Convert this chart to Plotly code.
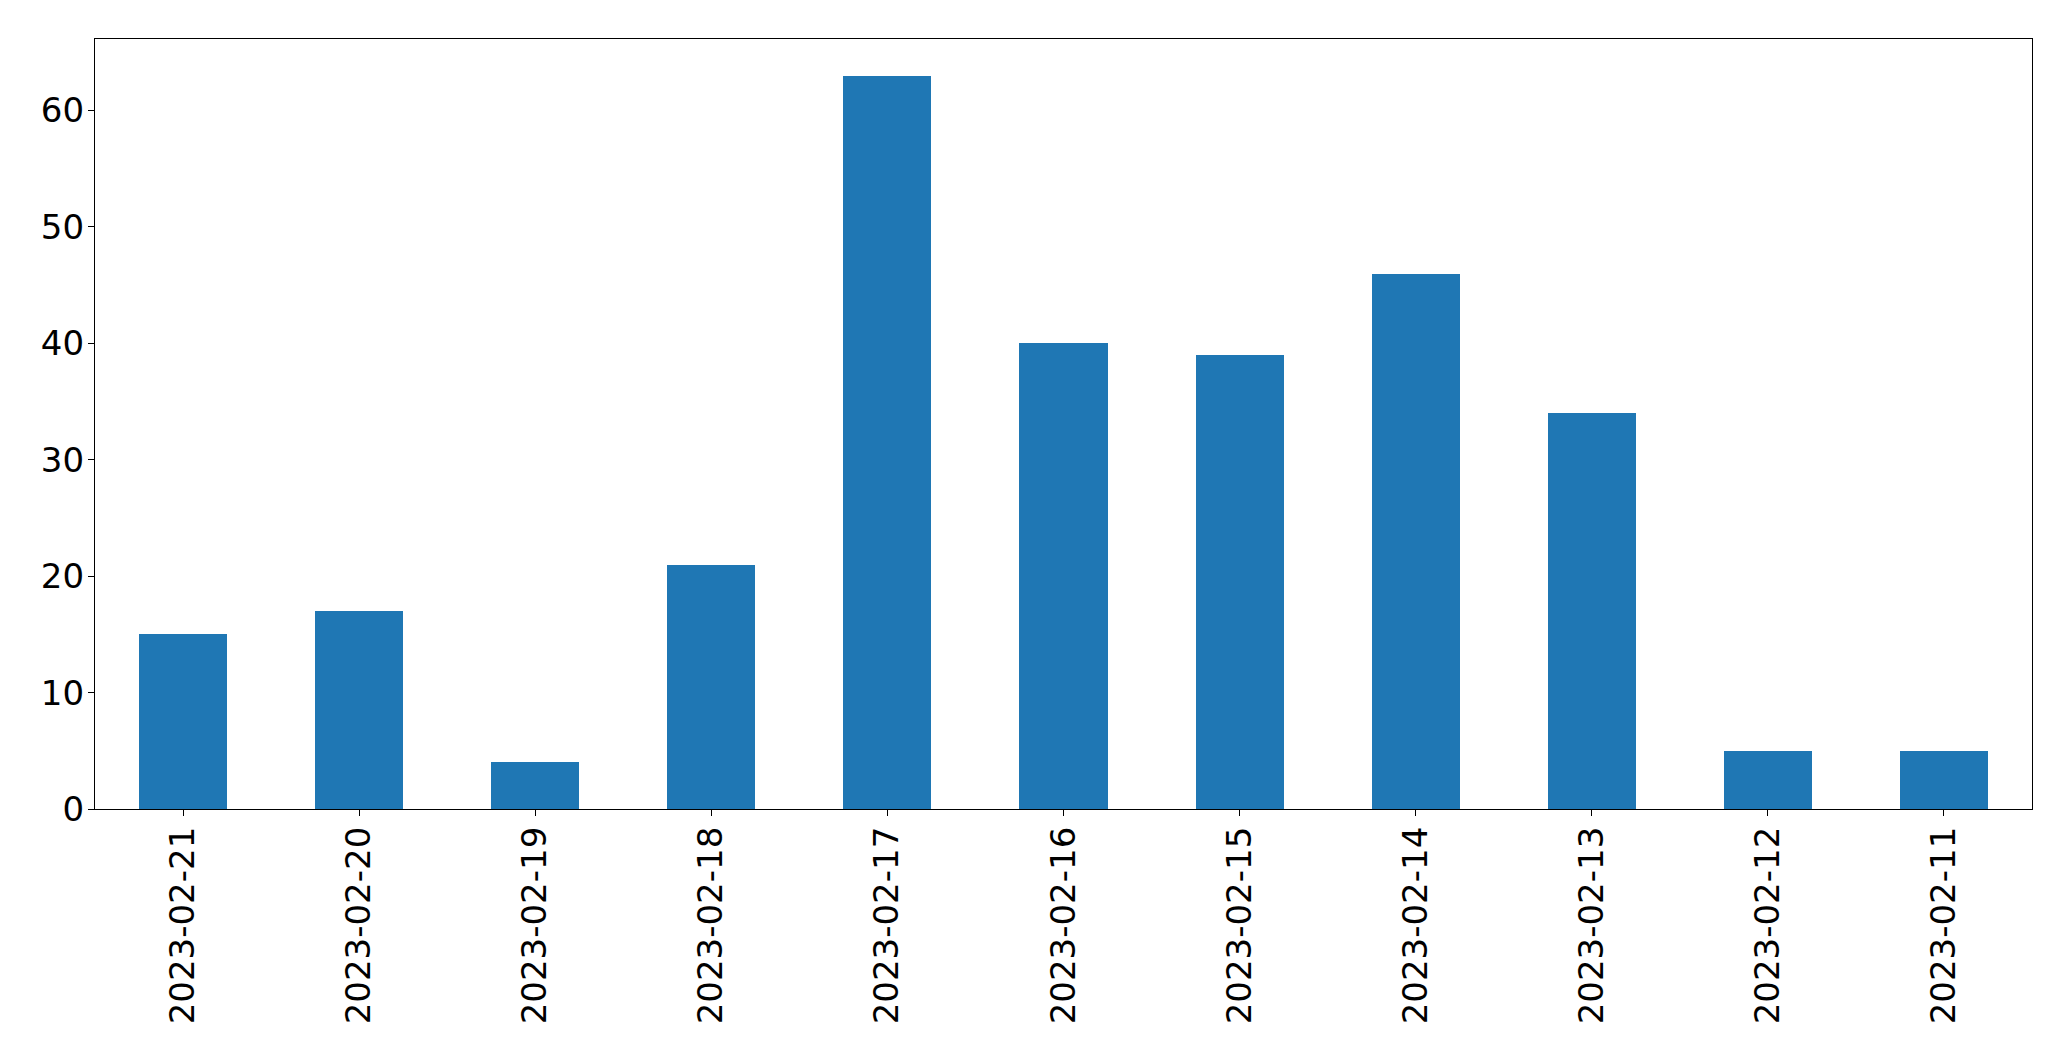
import plotly.graph_objects as go

dates = ["2023-02-21", "2023-02-20", "2023-02-19", "2023-02-18", "2023-02-17",
         "2023-02-16", "2023-02-15", "2023-02-14", "2023-02-13", "2023-02-12", "2023-02-11"]
counts = [15, 17, 4, 21, 63, 40, 39, 46, 34, 5, 5]
y_ticks = [0, 10, 20, 30, 40, 50, 60]

fig = go.Figure(go.Bar(x=dates, y=counts, width=0.5, marker=dict(color="#1f77b4", line=dict(width=0))))

# page body has an 8px margin; compensate so the plot area lands where the reference has it
fig.update_layout(
    width=2063, height=1053,
    margin=dict(l=87, r=39, t=31, b=252, autoexpand=False),
    paper_bgcolor="white", plot_bgcolor="white",
    font=dict(family="DejaVu Sans", size=34, color="black"),
    showlegend=False,
    bargap=0,
)
fig.update_xaxes(
    type="category", range=[-0.5, len(dates) - 0.5],
    showline=True, linecolor="black", linewidth=1.3, mirror=True,
    ticks="outside", ticklen=6, tickwidth=1.3, tickcolor="black",
    tickangle=-90, showgrid=False, zeroline=False, ticklabelstandoff=-3,
)
fig.update_yaxes(
    range=[0, max(counts) * 1.05], tickvals=y_ticks,
    showline=True, linecolor="black", linewidth=1.3, mirror=True,
    ticks="outside", ticklen=6, tickwidth=1.3, tickcolor="black",
    showgrid=False, zeroline=False, ticklabelstandoff=-3,
)
fig.write_html("out.html")
